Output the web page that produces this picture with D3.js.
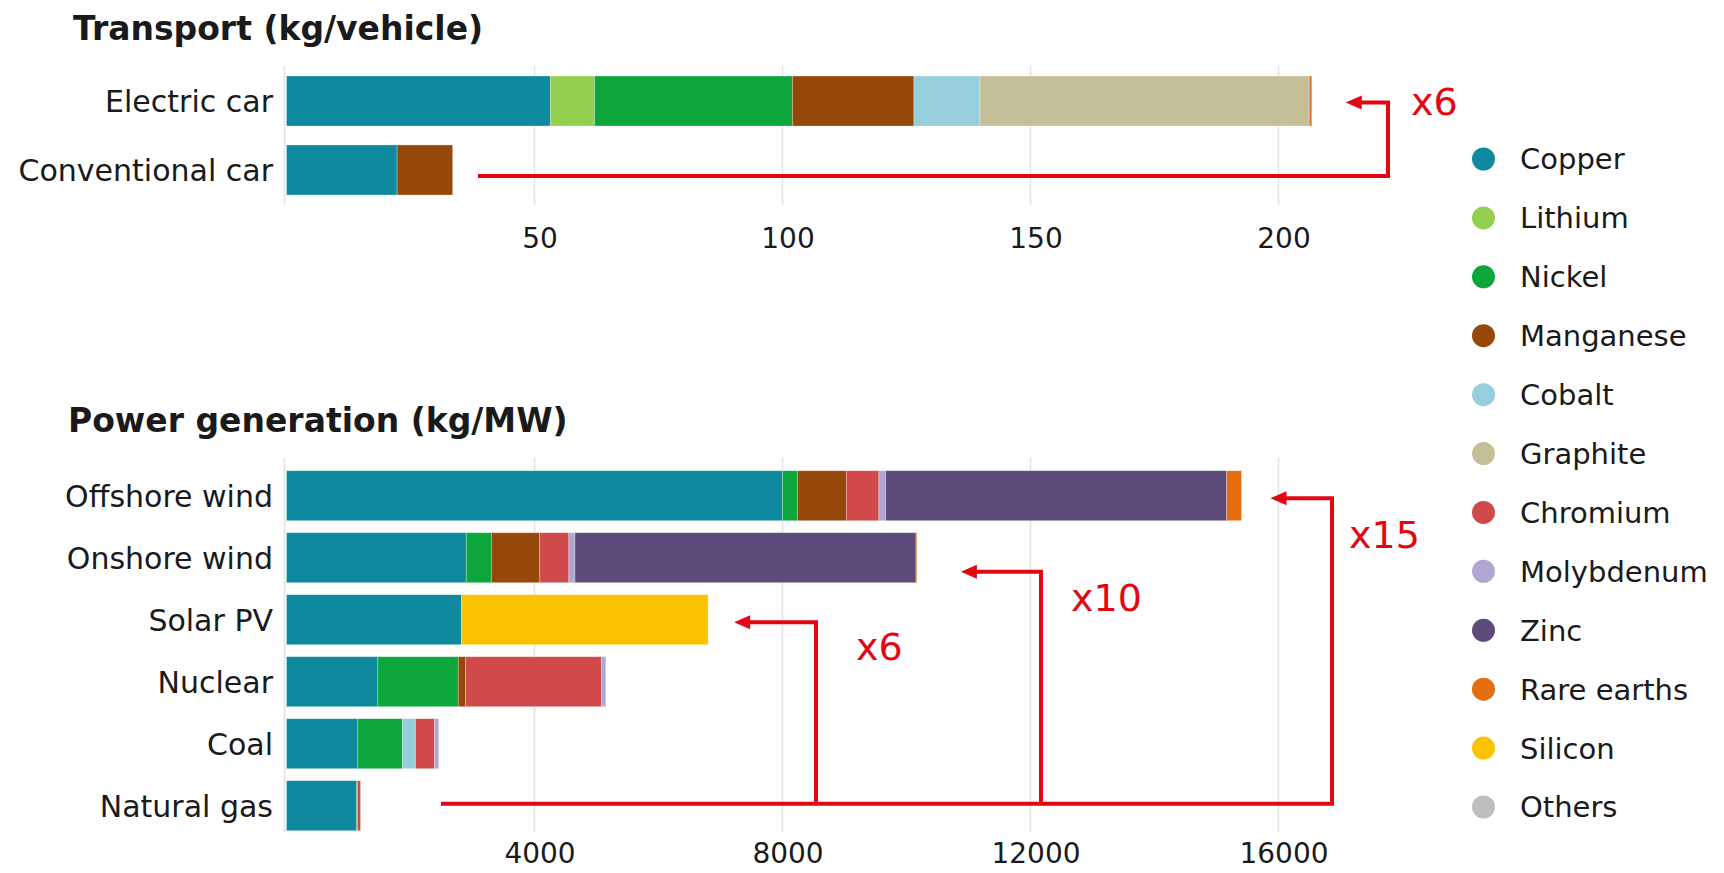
<!DOCTYPE html>
<html>
<head>
<meta charset="utf-8">
<script src="https://cdn.jsdelivr.net/npm/d3@7"></script>
<style>
  html, body { margin: 0; padding: 0; background: #fff; }
  svg { display: block; }
  text { font-family: "DejaVu Sans", sans-serif; fill: #1a1a1a; }
</style>
</head>
<body>
<svg id="chart" width="1724" height="873"></svg>
<script>
// Minerals, in stacking and legend order
const minerals = ["Copper", "Lithium", "Nickel", "Manganese", "Cobalt", "Graphite",
  "Chromium", "Molybdenum", "Zinc", "Rare earths", "Silicon", "Others"];
const mineralColors = ["#0e899e", "#93d04f", "#0ca63d", "#96480b", "#96cedc", "#c3bf97",
  "#d04a4b", "#b0a6d1", "#5c4a7a", "#e56f10", "#fbc200", "#bebebe"];

// Transport (kg/vehicle), one value per mineral
const transportRows = ["Electric car", "Conventional car"];
const electricCar     = [53.2, 8.9, 39.9, 24.5, 13.3, 66.3, 0, 0, 0.1, 0.5, 0, 0];
const conventionalCar = [22.3, 0, 0, 11.2, 0, 0, 0, 0, 0, 0, 0, 0];
const transportTicks = [50, 100, 150, 200];

// Power generation (kg/MW), one value per mineral
const powerRows = ["Offshore wind", "Onshore wind", "Solar PV", "Nuclear", "Coal", "Natural gas"];
const offshoreWind = [8000, 0, 240, 790, 0, 0, 525, 109, 5500, 239, 0, 0];
const onshoreWind  = [2900, 0, 404, 780, 0, 0, 470, 99, 5500, 14, 0, 0];
const solarPV      = [2822, 0, 0, 0, 0, 0, 0, 0, 0, 0, 3978, 0];
const nuclear      = [1473, 0, 1297, 120, 0, 0, 2190, 70, 0, 0, 0, 0];
const coal         = [1150, 0, 721, 0, 210, 0, 308, 66, 0, 0, 0, 0];
const naturalGas   = [1130, 0, 16, 0, 0, 0, 48, 0, 0, 0, 0, 0];
const powerTicks = [4000, 8000, 12000, 16000];

// Multiplier callouts: ratio label pointing from the baseline row to a bar
const transportCallouts = [{ row: "Electric car", label: "x6" }];
const powerCallouts = [
  { row: "Offshore wind", label: "x15" },
  { row: "Onshore wind", label: "x10" },
  { row: "Solar PV", label: "x6" }
];

const svg = d3.select("#chart");
const color = d3.scaleOrdinal().domain(minerals).range(mineralColors);
const RED = "#e30613";

function toRecords(rows, arrays) {
  return rows.map((name, i) => {
    const rec = { name };
    minerals.forEach((m, j) => rec[m] = arrays[i][j]);
    rec.total = d3.sum(arrays[i]);
    return rec;
  });
}

function panel(cfg) {
  const g = svg.append("g");
  const x = d3.scaleLinear().domain(cfg.domain).range([286.5, 1278.5]);
  const y = d3.scaleBand().domain(cfg.rows).range(cfg.yRange)
    .paddingInner(cfg.padIn).paddingOuter(cfg.padOut);

  // title
  g.append("text").attr("x", cfg.titleX).attr("y", cfg.titleY)
    .attr("font-size", 33).attr("font-weight", "bold").attr("fill", "#111")
    .text(cfg.title);

  // grid lines and left rule
  const grid = g.append("g");
  grid.selectAll("line.grid").data(cfg.ticks).join("line")
    .attr("class", "grid")
    .attr("x1", d => x(d)).attr("x2", d => x(d))
    .attr("y1", cfg.gridY[0]).attr("y2", cfg.gridY[1])
    .attr("stroke", "#e3e3e3").attr("stroke-width", 1.5);
  grid.append("line")
    .attr("x1", 284.5).attr("x2", 284.5)
    .attr("y1", cfg.gridY[0]).attr("y2", cfg.gridY[1])
    .attr("stroke", "#e3e3e3").attr("stroke-width", 1.5);

  // bottom axis labels
  const axis = d3.axisBottom(x).tickValues(cfg.ticks).tickSize(0).tickPadding(0)
    .tickFormat(d3.format("d"));
  const ax = g.append("g").attr("transform", `translate(5,${cfg.tickY})`).call(axis);
  ax.select(".domain").remove();
  ax.selectAll("text").attr("font-size", 28).attr("fill", "#1a1a1a")
    .attr("font-family", "DejaVu Sans").attr("dy", "0.35em").attr("y", 0);

  // stacked bars
  const records = toRecords(cfg.rows, cfg.values);
  const series = d3.stack().keys(minerals)(records);
  g.append("g").selectAll("g").data(series).join("g")
    .attr("fill", d => color(d.key))
    .selectAll("rect").data(d => d.filter(s => s[1] - s[0] > 0)).join("rect")
    .attr("x", d => x(d[0]))
    .attr("width", d => x(d[1]) - x(d[0]))
    .attr("y", d => y(d.data.name))
    .attr("height", y.bandwidth())
    .attr("stroke", "#ffffff").attr("stroke-opacity", 0.35).attr("stroke-width", 0.8);

  // row labels
  g.append("g").selectAll("text").data(cfg.rows).join("text")
    .attr("x", 273).attr("y", d => y(d) + y.bandwidth() / 2)
    .attr("dy", "0.36em").attr("text-anchor", "end")
    .attr("font-size", 30).attr("fill", "#111")
    .text(d => d);

  // callouts
  const totals = new Map(records.map(r => [r.name, r.total]));
  const baseRow = cfg.rows[cfg.rows.length - 1];
  const baseY = y(baseRow) + y.bandwidth() / 2 + cfg.baseDy;
  const anno = g.append("g");
  anno.append("line")
    .attr("x1", cfg.baseStart).attr("x2", d3.max(cfg.callouts, c => c.lineX) + 2)
    .attr("y1", baseY).attr("y2", baseY)
    .attr("stroke", RED).attr("stroke-width", 4);
  cfg.callouts.forEach(c => {
    const ay = y(c.row) + y.bandwidth() / 2 + c.dy;
    const tip = x(totals.get(c.row)) + c.gap;
    anno.append("path")
      .attr("d", `M${c.lineX},${baseY}V${ay}H${tip + 14}`)
      .attr("fill", "none").attr("stroke", RED).attr("stroke-width", 4);
    anno.append("path")
      .attr("d", `M${tip},${ay}L${tip + 16},${ay - 7}L${tip + 16},${ay + 7}Z`)
      .attr("fill", RED);
    anno.append("text")
      .attr("x", c.textX).attr("y", c.textY)
      .attr("font-size", 38).attr("fill", RED).style("fill", RED)
      .text(c.label);
  });
}

panel({
  title: "Transport (kg/vehicle)", titleX: 73, titleY: 40,
  rows: transportRows, values: [electricCar, conventionalCar],
  domain: [0, 200], ticks: transportTicks,
  yRange: [66, 205], padIn: 0.275, padOut: 0.145,
  gridY: [66, 205], tickY: 238,
  baseDy: 6, baseStart: 478,
  callouts: transportCallouts.map(c => Object.assign({}, c,
    { lineX: 1388, gap: 34, dy: 1.5, textX: 1411, textY: 115 }))
});

const powerLayout = {
  "Offshore wind": { lineX: 1332, gap: 29, dy: 2.5, textX: 1349, textY: 548 },
  "Onshore wind":  { lineX: 1041, gap: 44, dy: 14, textX: 1071, textY: 611 },
  "Solar PV":      { lineX: 816,  gap: 26, dy: 2.5, textX: 856, textY: 660 }
};

panel({
  title: "Power generation (kg/MW)", titleX: 68, titleY: 432,
  rows: powerRows, values: [offshoreWind, onshoreWind, solarPV, nuclear, coal, naturalGas],
  domain: [0, 16000], ticks: powerTicks,
  yRange: [464.7, 836.7], padIn: 0.194, padOut: 0.097,
  gridY: [458, 832], tickY: 853,
  baseDy: -2, baseStart: 441,
  callouts: powerCallouts.map(c => Object.assign({}, c, powerLayout[c.row]))
});

// legend
const legend = svg.append("g");
const ly = d3.scalePoint().domain(minerals).range([159, 807]);
const item = legend.selectAll("g").data(minerals).join("g")
  .attr("transform", d => `translate(0,${ly(d)})`);
item.append("circle").attr("cx", 1483.5).attr("cy", 0).attr("r", 11.5)
  .attr("fill", d => color(d));
item.append("text").attr("x", 1520).attr("y", 0).attr("dy", "0.36em")
  .attr("font-size", 29).attr("fill", "#111").text(d => d);
</script>
</body>
</html>
